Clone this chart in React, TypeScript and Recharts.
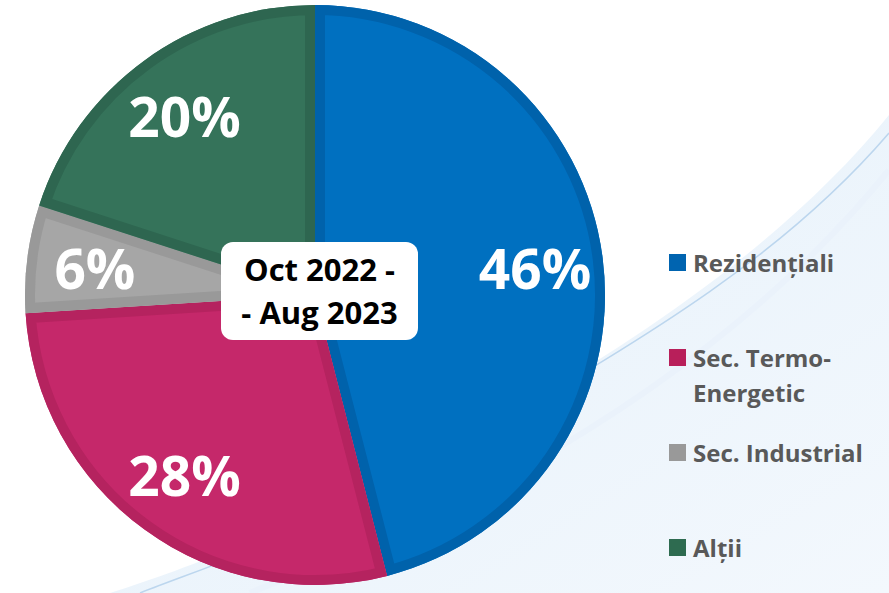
import { PieChart, Pie, Cell, Legend, Sector } from "recharts";

const categories = ["Rezidențiali", "Sec. Termo-Energetic", "Sec. Industrial", "Alții"];
const shares = [46, 28, 6, 20];
const fills = ["#0070c0", "#c5286a", "#a6a6a6", "#35735a"];
const borders = ["#0062ab", "#b5235f", "#999999", "#2e6650"];
const legendColors = ["#0064b0", "#b81f5a", "#999999", "#2e6b50"];

const data = categories.map((name, i) => ({ name, value: shares[i] }));

const RAD = Math.PI / 180;
const FONT = "'Open Sans', Lato, sans-serif";

// slice with a darker rim drawn inside its own outline
const renderSlice = (props: any) => {
    const { cx, cy, innerRadius, outerRadius, startAngle, endAngle, fill, stroke } = props;
    const id = `clip-${Math.round(startAngle * 10)}`;
    const geo = { cx, cy, innerRadius, outerRadius, startAngle, endAngle };
    return (
        <g>
            <defs>
                <clipPath id={id}>
                    <Sector {...geo} />
                </clipPath>
            </defs>
            <Sector {...geo} fill={fill} stroke="none" />
            <g clipPath={`url(#${id})`}>
                <Sector {...geo} fill="none" stroke={stroke} strokeWidth={20} />
            </g>
        </g>
    );
};

const renderLabel = (props: any) => {
    const { cx, cy, midAngle, outerRadius, value } = props;
    const r = outerRadius * 0.765;
    const x = cx + r * Math.cos(-midAngle * RAD);
    const y = cy + r * Math.sin(-midAngle * RAD);
    return (
        <text x={x} y={y} fill="#fff" textAnchor="middle" dominantBaseline="central"
            fontFamily={FONT} fontWeight={700} fontSize={55}>
            {value}%
        </text>
    );
};

const renderLegend = () => (
    <div style={{ fontFamily: FONT }}>
        {categories.map((name, i) => (
            <div key={name} style={{ display: "flex", alignItems: "flex-start", height: 95 }}>
                <span style={{ display: "inline-block", width: 17, height: 17, marginTop: 9, marginRight: 7, background: legendColors[i], flexShrink: 0 }} />
                <span style={{ color: "#595959", fontWeight: 700, fontSize: 24, lineHeight: "35px", width: 190 }}>{name}</span>
            </div>
        ))}
    </div>
);

export default function App() {
    return (
        <div style={{ position: "relative", width: 889, height: 593, background: "#fff", overflow: "hidden" }}>
            <style>{`body{margin:0}`}</style>
            <svg width={889} height={593} style={{ position: "absolute", left: 0, top: 0 }}>
                <defs>
                    <linearGradient id="bgSwoosh" x1="0" y1="0" x2="1" y2="1">
                        <stop offset="0%" stopColor="#e4f0fa" />
                        <stop offset="100%" stopColor="#f3f8fd" />
                    </linearGradient>
                </defs>
                <path d="M 889 115 C 780 250, 600 370, 420 460 S 180 570, 110 593 L 889 593 Z" fill="url(#bgSwoosh)" />
                <path d="M 889 133 C 780 260, 640 340, 470 440 S 210 565, 140 593" fill="none" stroke="#bcd6ee" strokeWidth={1.5} />
                <path d="M 889 170 C 800 280, 680 380, 520 470 S 300 570, 250 593" fill="none" stroke="#eaf2fb" strokeWidth={6} />
            </svg>
            <div style={{ position: "absolute", left: 0, top: 0 }}>
                <PieChart width={889} height={593} margin={{ top: 0, right: 0, bottom: 0, left: 0 }}>
                    <Pie data={data} dataKey="value" nameKey="name" cx={315} cy={295} outerRadius={290}
                        startAngle={90} endAngle={-270} label={renderLabel} labelLine={false}
                        shape={renderSlice} isAnimationActive={false}>
                        {data.map((d, i) => (
                            <Cell key={d.name} fill={fills[i]} stroke={borders[i]} />
                        ))}
                    </Pie>
                    <Legend layout="vertical" content={renderLegend}
                        wrapperStyle={{ position: "absolute", left: 669, top: 245, width: 215 }} />
                </PieChart>
            </div>
            <div style={{
                position: "absolute", left: 221, top: 242, width: 197, height: 98, background: "#fff",
                borderRadius: 12, fontFamily: FONT, fontWeight: 700, fontSize: 31, color: "#000",
                display: "flex", flexDirection: "column", justifyContent: "center", alignItems: "center", lineHeight: "43px",
            }}>
                <div>Oct 2022 -</div>
                <div>- Aug 2023</div>
            </div>
        </div>
    );
}
